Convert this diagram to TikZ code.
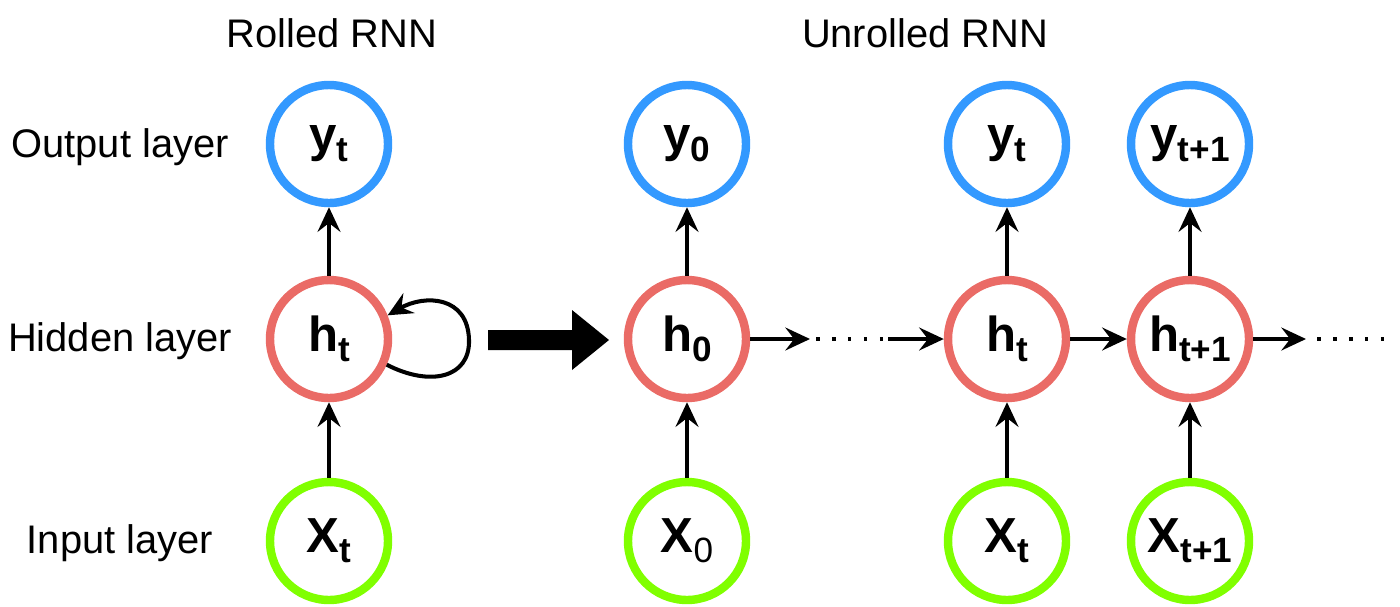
\documentclass[tikz,border=0pt]{standalone}
\usepackage{fontspec}
\setmainfont{Liberation Sans}
\usetikzlibrary{arrows.meta}
\definecolor{outblue}{RGB}{51,153,255}
\definecolor{hidred}{RGB}{234,107,102}
\definecolor{ingreen}{RGB}{128,255,0}
\newcommand{\cell}[2]{\textbf{#1}\raisebox{-.2em}{\fontsize{20}{21}\selectfont\bfseries #2}}
\begin{document}
\begin{tikzpicture}[x=0.02cm,y=-0.02cm,line join=round,
	>={Stealth[length=14pt,width=13pt,inset=5pt]},
	font=\fontsize{22.7}{26}\selectfont,
	neuron/.style={circle,draw,line width=4.8pt,minimum size=2.36cm,inner sep=0pt,font=\fontsize{28}{30}\selectfont},
	link/.style={->,line width=2.3pt},
	dots/.style={line width=2.2pt,dash pattern=on 2pt off 7.1pt}]
	\def\ry{144} \def\rh{339} \def\rx{541}
	\useasboundingbox (0,0) rectangle (1400,606);
	% titles and layer names
	\node (rolled) at (332,33) {Rolled RNN};
	\node (unrolled) at (925,33) {Unrolled RNN};
	\node (outl) at (120,147) {Output layer};
	\node (hidl) at (120,341) {Hidden layer};
	\node (inl) at (120,543) {Input layer};
	% rolled network
	\node[neuron,outblue] (yr) at (329,\ry) {\color{black}\cell{y}{t}};
	\node[neuron,hidred] (hr) at (329,\rh) {\color{black}\cell{h}{t}};
	\node[neuron,ingreen] (xr) at (329,\rx) {\color{black}\cell{X}{t}};
	\draw[link] (xr) -- (hr);
	\draw[link] (hr) -- (yr);
	\draw[link] (hr.-24) .. controls (430,387) and (470,378) .. (469,340)
		.. controls (468,296) and (425,294) .. (hr.22);
	\fill (488,330) -- (572,330) -- (572,310) -- (609,340) -- (572,370) -- (572,350) -- (488,350) -- cycle;
	% unrolled network
	\foreach \n/\px/\s/\sx in {0/687/0/{\mdseries 0},t/1007/t/t,t1/1190/t+1/t+1}{
		\node[neuron,outblue] (y\n) at (\px,\ry) {\color{black}\cell{y}{\s}};
		\node[neuron,hidred] (h\n) at (\px,\rh) {\color{black}\cell{h}{\s}};
		\node[neuron,ingreen] (x\n) at (\px,\rx) {\color{black}\cell{X}{\sx}};
		\draw[link] (x\n) -- (h\n);
		\draw[link] (h\n) -- (y\n);
	}
	\coordinate (a1) at (810,\rh);
	\coordinate (a2) at (888,\rh);
	\coordinate (a3) at (1306,\rh);
	\draw[link] (h0) -- (a1);
	\draw[dots] (816,\rh) -- (a2);
	\draw[link] (a2) -- (ht);
	\draw[link] (ht) -- (ht1);
	\draw[link] (ht1) -- (a3);
	\draw[dots] (1317,\rh) -- (1390,\rh);
\end{tikzpicture}
\end{document}
